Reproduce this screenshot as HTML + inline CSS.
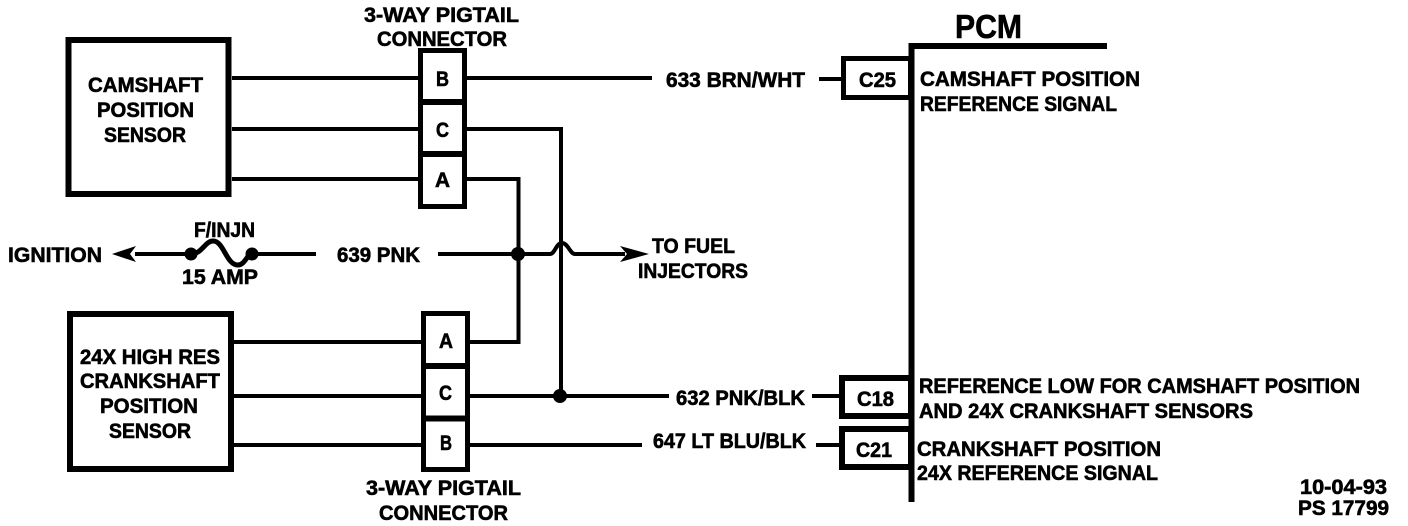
<!DOCTYPE html>
<html><head><meta charset="utf-8"><style>
html,body{margin:0;padding:0;background:#fff}
svg{display:block}
text{font-family:"Liberation Sans",sans-serif;font-weight:bold;font-size:21px;fill:#000;stroke:#000;stroke-width:.6px}
.w{fill:none;stroke:#000;stroke-width:4}
.b{fill:#fff;stroke:#000;stroke-width:6}
</style></head><body>
<svg width="1408" height="526" viewBox="0 0 1408 526" xmlns="http://www.w3.org/2000/svg">
<rect width="1408" height="526" fill="#fff"/>
<!-- wires -->
<path class="w" d="M232 78H418M467 78H652M232 129H418M467 129H561V396M232 179H418M467 179H518.500V342H470M234 342H421M234 396H421M470 396H669M234 445H421M470 445H642"/>
<path class="w" d="M135 254H191M252 254H316M438 254H550C555 254 556 243 562 243C568 243 570 254 575 254H625"/>
<path d="M191 254C202 254 205 241 213 241C224 241 226 265 238 265C245 265 247 254 252 254" fill="none" stroke="#000" stroke-width="5"/>
<circle cx="191" cy="254" r="6.500"/><circle cx="252" cy="254" r="6.500"/>
<circle cx="518" cy="254" r="7"/><circle cx="560" cy="396" r="7"/>
<path d="M112 254L136 246L130 254L136 262Z"/><path d="M649 254L620 246L627 254L620 262Z"/>
<!-- sensor boxes -->
<rect class="b" x="68.500" y="40" width="160" height="154"/>
<rect class="b" x="70" y="314" width="161" height="155"/>
<!-- pigtail connectors -->
<rect class="b" x="420.500" y="50.500" width="44" height="156" style="stroke-width:5"/>
<path d="M418 102H467M418 154H467" stroke="#000" stroke-width="6"/>
<rect class="b" x="423.500" y="313.500" width="44" height="156" style="stroke-width:5"/>
<path d="M421 366H470M421 418.500H470" stroke="#000" stroke-width="6"/>
<!-- PCM -->
<path d="M911.500 502V46H1107" fill="none" stroke="#000" stroke-width="6"/>
<rect class="b" x="843.500" y="58.500" width="67" height="39" style="stroke-width:5"/>
<rect class="b" x="842" y="378" width="69" height="38"/>
<rect class="b" x="842" y="429" width="69" height="38"/>
<path d="M911.500 46V502" stroke="#000" stroke-width="6"/>
<path class="w" d="M819 79H841M812 396H839M816 445H839"/>
<!-- labels -->
<text x="364" y="22" textLength="155" lengthAdjust="spacingAndGlyphs">3-WAY PIGTAIL</text>
<text x="377" y="46" textLength="130" lengthAdjust="spacingAndGlyphs">CONNECTOR</text>
<text x="88" y="92" textLength="115" lengthAdjust="spacingAndGlyphs">CAMSHAFT</text>
<text x="97" y="117" textLength="97" lengthAdjust="spacingAndGlyphs">POSITION</text>
<text x="104" y="142" textLength="82" lengthAdjust="spacingAndGlyphs">SENSOR</text>
<text x="436" y="86" textLength="13" lengthAdjust="spacingAndGlyphs">B</text>
<text x="436" y="137" textLength="13" lengthAdjust="spacingAndGlyphs">C</text>
<text x="435" y="187" textLength="15" lengthAdjust="spacingAndGlyphs">A</text>
<text x="666" y="87" textLength="139" lengthAdjust="spacingAndGlyphs">633 BRN/WHT</text>
<text x="194" y="237" textLength="61" lengthAdjust="spacingAndGlyphs">F/INJN</text>
<text x="8" y="262" textLength="94" lengthAdjust="spacingAndGlyphs">IGNITION</text>
<text x="337" y="262" textLength="83" lengthAdjust="spacingAndGlyphs">639 PNK</text>
<text x="182" y="284" textLength="76" lengthAdjust="spacingAndGlyphs">15 AMP</text>
<text x="652" y="253" textLength="83" lengthAdjust="spacingAndGlyphs">TO FUEL</text>
<text x="638" y="278" textLength="110" lengthAdjust="spacingAndGlyphs">INJECTORS</text>
<text x="80" y="364" textLength="140" lengthAdjust="spacingAndGlyphs">24X HIGH RES</text>
<text x="80" y="388" textLength="140" lengthAdjust="spacingAndGlyphs">CRANKSHAFT</text>
<text x="100" y="413" textLength="98" lengthAdjust="spacingAndGlyphs">POSITION</text>
<text x="109" y="438" textLength="82" lengthAdjust="spacingAndGlyphs">SENSOR</text>
<text x="439" y="348" textLength="14" lengthAdjust="spacingAndGlyphs">A</text>
<text x="439" y="400" textLength="13" lengthAdjust="spacingAndGlyphs">C</text>
<text x="440" y="450" textLength="12" lengthAdjust="spacingAndGlyphs">B</text>
<text x="366" y="495" textLength="155" lengthAdjust="spacingAndGlyphs">3-WAY PIGTAIL</text>
<text x="379" y="520" textLength="129" lengthAdjust="spacingAndGlyphs">CONNECTOR</text>
<text x="676" y="405" textLength="129" lengthAdjust="spacingAndGlyphs">632 PNK/BLK</text>
<text x="653" y="448" textLength="153" lengthAdjust="spacingAndGlyphs">647 LT BLU/BLK</text>
<text x="955" y="38" textLength="67" lengthAdjust="spacingAndGlyphs" style="font-size:33px">PCM</text>
<text x="859" y="87" textLength="37" lengthAdjust="spacingAndGlyphs">C25</text>
<text x="857" y="406" textLength="37" lengthAdjust="spacingAndGlyphs">C18</text>
<text x="856" y="457" textLength="36" lengthAdjust="spacingAndGlyphs">C21</text>
<text x="920" y="86" textLength="220" lengthAdjust="spacingAndGlyphs">CAMSHAFT POSITION</text>
<text x="920" y="111" textLength="197" lengthAdjust="spacingAndGlyphs">REFERENCE SIGNAL</text>
<text x="919" y="393" textLength="441" lengthAdjust="spacingAndGlyphs">REFERENCE LOW FOR CAMSHAFT POSITION</text>
<text x="919" y="418" textLength="334" lengthAdjust="spacingAndGlyphs">AND 24X CRANKSHAFT SENSORS</text>
<text x="917" y="456" textLength="244" lengthAdjust="spacingAndGlyphs">CRANKSHAFT POSITION</text>
<text x="917" y="480" textLength="241" lengthAdjust="spacingAndGlyphs">24X REFERENCE SIGNAL</text>
<text x="1300" y="494" textLength="87" lengthAdjust="spacingAndGlyphs">10-04-93</text>
<text x="1298" y="515" textLength="91" lengthAdjust="spacingAndGlyphs">PS 17799</text>
</svg>
</body></html>
